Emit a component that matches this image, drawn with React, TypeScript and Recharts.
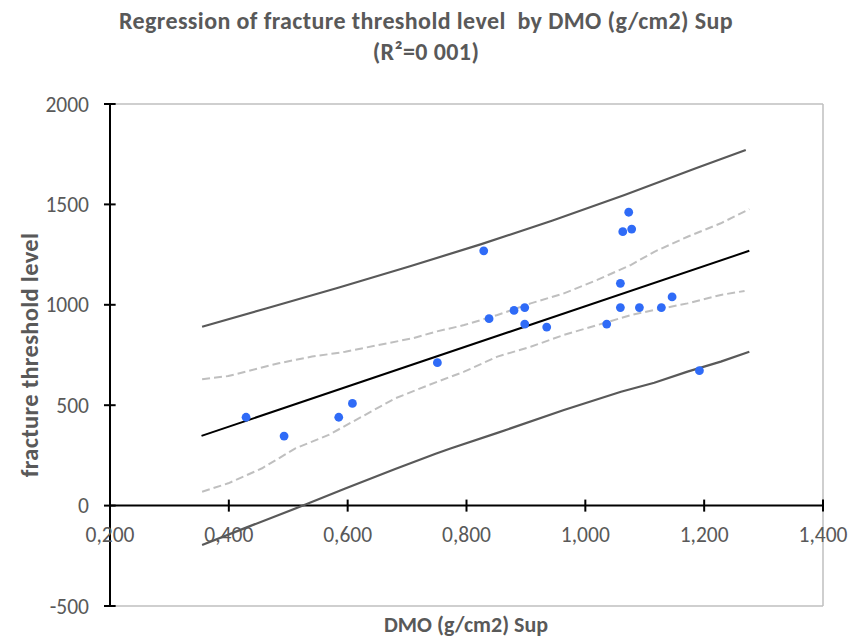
import React from "react"
import {
  ComposedChart,
  Line,
  Scatter,
  XAxis,
  YAxis,
  ReferenceLine,
} from "recharts"

// observations
const dmo = [0.429, 0.493, 0.585, 0.608, 0.751, 0.829, 0.838, 0.88, 0.898, 0.898, 0.935, 1.036, 1.059, 1.059, 1.063, 1.073, 1.078, 1.091, 1.128, 1.146, 1.192]
const threshold = [440, 346, 440, 509, 712, 1269, 931, 972, 986, 904, 889, 904, 1107, 986, 1364, 1461, 1377, 986, 986, 1039, 672]

// fitted line
const fitX = [0.354, 1.276]
const fitY = [347, 1269]

// confidence interval of the mean (dashed)
const ciUpperX = [0.355, 0.399, 0.428, 0.484, 0.54, 0.596, 0.652, 0.709, 0.748, 0.796, 0.852, 0.908, 0.964, 1.02, 1.077, 1.116, 1.172, 1.228, 1.276]
const ciUpperY = [629, 645, 667, 709, 742, 766, 800, 833, 866, 899, 949, 1007, 1057, 1124, 1199, 1264, 1339, 1406, 1476]
const ciLowerX = [0.355, 0.399, 0.456, 0.512, 0.568, 0.624, 0.68, 0.737, 0.796, 0.852, 0.908, 0.964, 1.02, 1.077, 1.116, 1.172, 1.228, 1.268]
const ciLowerY = [69, 111, 186, 285, 352, 443, 534, 601, 667, 742, 791, 850, 899, 949, 974, 1007, 1049, 1069]

// prediction interval (solid grey)
const piUpperX = [0.355, 0.464, 0.584, 0.705, 0.825, 0.945, 1.066, 1.186, 1.27]
const piUpperY = [891, 983, 1085, 1192, 1302, 1420, 1547, 1680, 1771]
const piLowerX = [0.355, 0.428, 0.529, 0.596, 0.68, 0.748, 0.773, 0.852, 0.964, 1.06, 1.116, 1.172, 1.228, 1.276]
const piLowerY = [-196, -111, 5, 85, 182, 258, 284, 362, 476, 567, 612, 667, 717, 766]

const xTicks = [0.2, 0.4, 0.6, 0.8, 1.0, 1.2, 1.4]
const yTicks = [-500, 0, 500, 1000, 1500, 2000]

const zip = (xs: number[], ys: number[]) => xs.map((x, i) => ({ x, y: ys[i] }))

const points = zip(dmo, threshold)
const fit = zip(fitX, fitY)
const ciUpper = zip(ciUpperX, ciUpperY)
const ciLower = zip(ciLowerX, ciLowerY)
const piUpper = zip(piUpperX, piUpperY)
const piLower = zip(piLowerX, piLowerY)

const FONT = "Calibri, 'Liberation Sans', Arial, sans-serif"
const GREY = "#595959"
const BORDER = "#BFBFBF"

const fmtX = (v: number) => v.toFixed(3).replace(".", ",")

export default function App() {
  return (
    <div style={{ position: "absolute", left: 0, top: 0, width: 861, height: 638, background: "#fff", fontFamily: FONT }}>
      <div style={{ position: "absolute", left: 0, width: 852, top: 5, textAlign: "center", color: GREY, fontWeight: "bold", fontSize: 24, letterSpacing: 0.4, lineHeight: "31px" }}>
        Regression of fracture threshold level&nbsp; by DMO (g/cm2) Sup
        <br />
        (R²=0 001)
      </div>
      <div
        style={{
          position: "absolute",
          left: 30,
          top: 355,
          transform: "translate(-50%, -50%) rotate(-90deg)",
          whiteSpace: "nowrap",
          color: GREY,
          fontWeight: "bold",
          fontSize: 24.5,
          letterSpacing: 0.3,
        }}
      >
        fracture threshold level
      </div>
      <div style={{ position: "absolute", left: 466, top: 624, transform: "translate(-50%, -50%)", whiteSpace: "nowrap", color: GREY, fontWeight: "bold", fontSize: 22 }}>
        DMO (g/cm2) Sup
      </div>
      <ComposedChart width={861} height={638} margin={{ top: 104, right: 38, bottom: 32, left: 20 }}>
        <XAxis dataKey="x" type="number" domain={[0.2, 1.4]} ticks={xTicks} hide allowDataOverflow />
        <YAxis
          dataKey="y"
          type="number"
          domain={[-500, 2000]}
          ticks={yTicks}
          width={90}
          allowDataOverflow
          axisLine={{ stroke: "#000", strokeWidth: 2 }}
          tickLine={{ stroke: "#000", strokeWidth: 2 }}
          tickSize={6}
          tickMargin={15}
          tick={{ fill: GREY, fontSize: 21.5, fontFamily: FONT }}
        />
        <ReferenceLine y={2000} stroke={BORDER} strokeWidth={1.5} />
        <ReferenceLine y={-500} stroke={BORDER} strokeWidth={1.5} />
        <ReferenceLine x={1.4} stroke={BORDER} strokeWidth={1.5} />
        <ReferenceLine y={0} stroke="#000" strokeWidth={2} />
        {xTicks.map((t) => (
          <ReferenceLine
            key={"xt" + t}
            segment={[{ x: t, y: -30 }, { x: t, y: 30 }]}
            stroke="#000"
            strokeWidth={2}
            label={{ value: fmtX(t), position: "bottom", offset: 15, fill: GREY, fontSize: 21.5, fontFamily: FONT }}
          />
        ))}
        {yTicks.map((t) => (
          <ReferenceLine key={"yt" + t} segment={[{ x: 0.2, y: t }, { x: 0.2095, y: t }]} stroke="#000" strokeWidth={2} />
        ))}
        <Line data={piUpper} dataKey="y" type="linear" stroke={GREY} strokeWidth={2.2} dot={false} isAnimationActive={false} />
        <Line data={piLower} dataKey="y" type="linear" stroke={GREY} strokeWidth={2.2} dot={false} isAnimationActive={false} />
        <Line data={ciUpper} dataKey="y" type="linear" stroke={BORDER} strokeWidth={2} strokeDasharray="8 4" dot={false} isAnimationActive={false} />
        <Line data={ciLower} dataKey="y" type="linear" stroke={BORDER} strokeWidth={2} strokeDasharray="8 4" dot={false} isAnimationActive={false} />
        <Line data={fit} dataKey="y" type="linear" stroke="#000" strokeWidth={2} dot={false} isAnimationActive={false} />
        <Scatter
          data={points}
          dataKey="y"
          isAnimationActive={false}
          shape={(p: any) => <circle cx={p.cx} cy={p.cy} r={4.4} fill="#2F6BF7" />}
        />
      </ComposedChart>
    </div>
  )
}
